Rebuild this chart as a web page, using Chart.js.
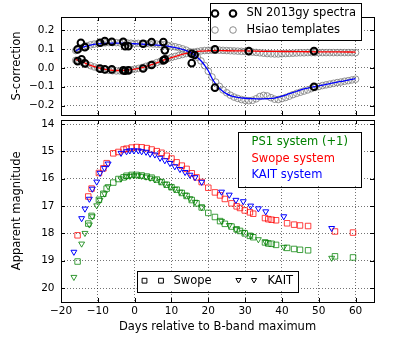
<!DOCTYPE html>
<html><head><meta charset="utf-8">
<script src="https://cdn.jsdelivr.net/npm/chart.js@4.4.1/dist/chart.umd.min.js"></script>
<style>
html,body{margin:0;padding:0;background:#fff;}
#wrap{position:relative;width:415px;height:346px;overflow:hidden;}
canvas{position:absolute;left:0;top:0;}
</style></head><body>
<div id="wrap"><canvas id="c1" width="415" height="346"></canvas><canvas id="c2" width="415" height="346"></canvas></div>
<script>
// ---------- Top panel data (S-correction) ----------
const hsiaoDays = [-16,-15,-14,-13,-12,-11,-10,-9,-8,-7,-6,-5,-4,-3,-2,-1,0,1,2,3,4,5,6,7,8,9,10,11,12,13,14,15,16,17,18,19,20,21,22,23,24,25,26,27,28,29,30,31,32,33,34,35,36,37,38,39,40,41,42,43,44,45,46,47,48,49,50,51,52,53,54,55,56,57,58,59,60];
const hsiaoBlueBranch = [0.092,0.102,0.110,0.117,0.122,0.126,0.129,0.131,0.133,0.134,0.134,0.134,0.133,0.133,0.132,0.131,0.130,0.130,0.129,0.128,0.128,0.127,0.126,0.124,0.122,0.119,0.116,0.112,0.107,0.101,0.094,0.085,0.072,0.057,0.037,0.012,-0.018,-0.048,-0.075,-0.098,-0.117,-0.132,-0.145,-0.155,-0.162,-0.168,-0.172,-0.174,-0.172,-0.164,-0.152,-0.146,-0.149,-0.158,-0.166,-0.168,-0.163,-0.157,-0.150,-0.142,-0.135,-0.129,-0.123,-0.117,-0.110,-0.104,-0.099,-0.094,-0.090,-0.086,-0.082,-0.078,-0.075,-0.071,-0.068,-0.064,-0.060];
const hsiaoRedBranch = [0.040,0.034,0.027,0.019,0.012,0.005,-0.001,-0.006,-0.010,-0.013,-0.015,-0.016,-0.016,-0.015,-0.013,-0.010,-0.007,-0.003,0.002,0.008,0.014,0.021,0.028,0.035,0.042,0.049,0.055,0.061,0.066,0.071,0.076,0.080,0.084,0.087,0.090,0.092,0.093,0.094,0.094,0.094,0.093,0.092,0.091,0.090,0.089,0.088,0.087,0.086,0.084,0.082,0.080,0.078,0.076,0.075,0.074,0.074,0.075,0.076,0.077,0.078,0.079,0.080,0.080,0.081,0.081,0.081,0.081,0.081,0.081,0.081,0.081,0.081,0.081,0.081,0.081,0.081,0.081];

const blueLineDays = [-16,-15,-14,-12,-10,-8,-6,-4,-2,0,2,4,6,8,10,12,14,16,17,18,19,20,21,22,23,24,25,26,27,28,30,32,34,36,38,40,42,44,46,48,50,52,54,56,58,60];
const blueLineVals = [0.090,0.101,0.110,0.121,0.127,0.130,0.131,0.131,0.130,0.128,0.126,0.124,0.121,0.117,0.112,0.104,0.092,0.072,0.057,0.038,0.014,-0.015,-0.055,-0.085,-0.108,-0.125,-0.138,-0.147,-0.153,-0.157,-0.161,-0.163,-0.164,-0.163,-0.160,-0.150,-0.137,-0.124,-0.112,-0.103,-0.095,-0.087,-0.080,-0.072,-0.065,-0.057];
const redLineDays = [-16,-14,-12,-10,-8,-6,-4,-2,0,2,4,6,8,10,12,14,16,18,20,22,25,30,35,40,45,50,55,60];
const redLineVals = [0.045,0.030,0.013,0.001,-0.008,-0.013,-0.014,-0.012,-0.007,0.001,0.013,0.027,0.042,0.055,0.067,0.077,0.084,0.089,0.091,0.092,0.091,0.090,0.088,0.087,0.086,0.085,0.085,0.084];

const specBlueDays = [-15.5,-14.6,-13.5,-9.4,-8.1,-6.2,-3.1,-2.6,-1.7,2.3,4.6,7.8,8.2,15.5,16.3,21.8,48.7];
const specBlueVals = [0.098,0.133,0.110,0.133,0.142,0.139,0.139,0.115,0.115,0.128,0.137,0.137,0.093,0.075,0.068,-0.105,-0.100];
const specRedDays = [-15.5,-14.4,-13.5,-9.4,-8.1,-6.2,-3.1,-2.6,-1.7,2.3,4.6,7.8,8.2,15.5,21.8,31.0,48.7];
const specRedVals = [0.036,0.045,0.024,-0.004,-0.008,-0.008,-0.013,-0.015,-0.013,-0.003,0.015,0.040,0.045,0.025,0.098,0.089,0.089];

// ---------- Bottom panel data (apparent magnitude) ----------
const swopeDays = [-15.5,-12.6,-11.7,-9.7,-8.5,-7.6,-5.8,-4.4,-3.0,-2.2,-0.8,0.5,1.9,3.3,4.6,6.0,7.3,8.7,10.0,11.4,12.8,14.1,15.5,16.8,18.2,20.0,21.8,23.2,24.5,26.3,27.7,28.6,29.9,31.3,32.2,35.4,36.3,37.2,38.4,41.4,43.3,44.9,47.1,54.4,59.3];
const swopeMag = [18.07,16.65,16.36,15.79,15.62,15.43,15.07,15.02,14.93,14.90,14.86,14.84,14.85,14.88,14.93,14.99,15.05,15.16,15.26,15.40,15.52,15.64,15.80,15.95,16.12,16.33,16.50,16.61,16.74,16.90,17.01,17.07,17.16,17.23,17.28,17.44,17.48,17.50,17.52,17.63,17.68,17.71,17.73,17.93,17.97];
const ps1SwopeMag = [19.03,17.64,17.36,16.77,16.55,16.36,16.14,16.01,15.95,15.89,15.86,15.86,15.88,15.92,15.96,16.03,16.12,16.22,16.31,16.40,16.52,16.63,16.78,16.90,17.05,17.25,17.40,17.55,17.65,17.75,17.85,17.91,18.00,18.09,18.14,18.33,18.37,18.38,18.42,18.53,18.57,18.60,18.62,18.84,18.88];
const kaitDays = [-16.5,-14.4,-13.5,-12.3,-11.5,-10.3,-9.4,-8.2,-7.2,-3.7,-2.2,-1.3,-0.2,1.0,1.9,3.1,4.2,5.5,6.9,8.2,9.6,10.9,12.3,13.7,15.0,16.4,18.2,23.6,25.7,27.5,29.5,31.5,33.6,35.6,40.5,53.5];
const kaitMag = [18.68,17.45,17.10,16.74,16.37,16.11,15.79,15.61,15.45,15.06,15.00,14.97,14.97,14.97,15.00,15.02,15.09,15.12,15.24,15.33,15.43,15.55,15.65,15.76,15.86,15.95,16.12,16.48,16.59,16.78,16.83,16.99,17.09,17.20,17.38,17.81];
const ps1KaitMag = [19.60,18.38,17.99,17.68,17.38,16.98,16.78,16.55,16.28,16.00,15.92,15.90,15.88,15.88,15.90,15.93,15.97,16.03,16.10,16.19,16.29,16.38,16.48,16.59,16.72,16.85,17.05,17.55,17.70,17.85,17.95,18.08,18.22,18.32,18.50,18.90];

// ---------- Axis settings ----------
const xMin = -20, xMax = 65, xStep = 10;
const sMin = -0.25, sMax = 0.27, sStep = 0.1;
const mMin = 13.85, mMax = 20.5, mStep = 1;

const legendTop = ['SN 2013gy spectra', 'Hsiao templates'];
const legendSystems = ['PS1 system (+1)', 'Swope system', 'KAIT system'];
const legendInstruments = ['Swope', 'KAIT'];

// ---------- helpers ----------
const pts = (xs, ys) => xs.map((x, i) => ({x: x, y: ys[i]}));
const minus = s => String(s).replace('-', '\u2212');
const FONT = 'DejaVu Sans';
Chart.defaults.font.family = FONT;
Chart.defaults.color = '#000';

const GREEN = '#008000', RED = '#ff0000', BLUE = '#0000ff';
const gridOpts = {color: 'rgba(0,0,0,0.55)', lineWidth: 1, drawTicks: false};
const borderOpts = {display: false, dash: [1, 2]};

function xAxis(show) {
  return {
    type: 'linear', min: xMin, max: xMax,
    ticks: {display: show, stepSize: xStep, includeBounds: false, autoSkip: false, maxRotation: 0,
            padding: 3, font: {size: 10.5}, color: '#000', callback: v => minus(v)},
    grid: gridOpts, border: borderOpts,
    title: show ? {display: true, text: 'Days relative to B-band maximum', color: '#000',
                   font: {size: 11.5}, padding: {top: 0, bottom: 12}} : {display: false},
    afterFit: s => { s.height = show ? 44.3 : 0; s.paddingLeft = 0; s.paddingRight = 0; }
  };
}
function yAxis(min, max, step, reverse, title, dec) {
  return {
    type: 'linear', min: min, max: max, reverse: reverse,
    ticks: {stepSize: step, includeBounds: false, padding: 6.5, font: {size: 10.5}, color: '#000',
            callback: v => minus(Number(v).toFixed(dec))},
    grid: gridOpts, border: borderOpts,
    title: {display: true, text: title, color: '#000', font: {size: 11.5}, padding: {top: 10, bottom: 0}},
    afterFit: s => { s.width = 61; s.paddingTop = 0; s.paddingBottom = 0; }
  };
}

const framePlugin = {
  id: 'frame',
  afterDatasetsDraw(chart) {
    const {ctx, chartArea: a, scales} = chart;
    const L = Math.round(a.left), R = Math.round(a.right), T = Math.round(a.top), B = Math.round(a.bottom);
    ctx.save();
    ctx.strokeStyle = '#000';
    ctx.lineWidth = 1;
    ctx.setLineDash([]);
    ctx.beginPath();
    const tl = 4;
    scales.x.ticks.forEach(t => {
      const p = Math.round(scales.x.getPixelForValue(t.value)) + 0.5;
      ctx.moveTo(p, B); ctx.lineTo(p, B - tl);
      ctx.moveTo(p, T); ctx.lineTo(p, T + tl);
    });
    scales.y.ticks.forEach(t => {
      const p = Math.round(scales.y.getPixelForValue(t.value)) + 0.5;
      ctx.moveTo(L, p); ctx.lineTo(L + tl, p);
      ctx.moveTo(R, p); ctx.lineTo(R - tl, p);
    });
    ctx.stroke();
    ctx.strokeRect(L + 0.5, T + 0.5, R - L, B - T);
    ctx.restore();
  }
};

function drawMarker(ctx, style, x, y, r, color, lw) {
  ctx.save();
  ctx.strokeStyle = color; ctx.lineWidth = lw; ctx.setLineDash([]);
  ctx.beginPath();
  if (style === 'circle') ctx.arc(x, y, r, 0, Math.PI * 2);
  else if (style === 'rect') ctx.rect(x - r, y - r, 2 * r, 2 * r);
  else if (style === 'tri') { ctx.moveTo(x - r * 0.87, y - r * 0.5); ctx.lineTo(x + r * 0.87, y - r * 0.5); ctx.lineTo(x, y + r); ctx.closePath(); }
  ctx.stroke();
  ctx.restore();
}
function legendBox(ctx, x, y, w, h) {
  ctx.save();
  ctx.fillStyle = '#fff'; ctx.strokeStyle = '#000'; ctx.lineWidth = 1;
  ctx.fillRect(x, y, w, h);
  ctx.strokeRect(Math.round(x) + 0.5, Math.round(y) + 0.5, Math.round(w), Math.round(h));
  ctx.restore();
}
function legendText(ctx, s, x, y, color) {
  ctx.save();
  ctx.font = '11.5px "' + FONT + '"';
  ctx.fillStyle = color; ctx.textAlign = 'left'; ctx.textBaseline = 'middle';
  ctx.fillText(s, x, y);
  ctx.restore();
}

const legendPluginTop = {
  id: 'legTop',
  afterDraw(chart) {
    const ctx = chart.ctx;
    legendBox(ctx, 210, 3, 151, 37);
    drawMarker(ctx, 'circle', 215, 13.5, 3.3, '#000', 2);
    drawMarker(ctx, 'circle', 233, 13.5, 3.3, '#000', 2);
    legendText(ctx, legendTop[0], 246.5, 13.5, '#000');
    drawMarker(ctx, 'circle', 215, 30, 3.3, '#8c8c8c', 1);
    drawMarker(ctx, 'circle', 233, 30, 3.3, '#8c8c8c', 1);
    legendText(ctx, legendTop[1], 246.5, 30, '#000');
  }
};
const legendPluginBottom = {
  id: 'legBottom',
  afterDraw(chart) {
    const ctx = chart.ctx;
    legendBox(ctx, 237.5, 131.5, 122.5, 54.5);
    legendText(ctx, legendSystems[0], 251.5, 142.5, GREEN);
    legendText(ctx, legendSystems[1], 251.5, 159, RED);
    legendText(ctx, legendSystems[2], 251.5, 175.5, BLUE);
    legendBox(ctx, 136.5, 270.5, 161, 20.5);
    drawMarker(ctx, 'rect', 144.5, 280.7, 2.4, '#000', 1);
    drawMarker(ctx, 'rect', 161, 280.7, 2.4, '#000', 1);
    legendText(ctx, legendInstruments[0], 173.5, 280.7, '#000');
    drawMarker(ctx, 'tri', 238.5, 280, 3, '#000', 1);
    drawMarker(ctx, 'tri', 254, 280, 3, '#000', 1);
    legendText(ctx, legendInstruments[1], 267.5, 280.7, '#000');
  }
};

const common = {
  responsive: false, animation: false, devicePixelRatio: 1, events: [],
  plugins: {legend: {display: false}, tooltip: {enabled: false}}
};

// ---------- Top chart ----------
new Chart(document.getElementById('c1'), {
  type: 'scatter',
  data: {datasets: [
    {data: pts(specBlueDays, specBlueVals), pointStyle: 'circle', pointRadius: 3.3, borderWidth: 2, borderColor: '#000', backgroundColor: 'rgba(0,0,0,0)', order: 1},
    {data: pts(specRedDays, specRedVals), pointStyle: 'circle', pointRadius: 3.3, borderWidth: 2, borderColor: '#000', backgroundColor: 'rgba(0,0,0,0)', order: 1},
    {data: pts(blueLineDays, blueLineVals), showLine: true, pointRadius: 0, borderColor: BLUE, borderWidth: 1.3, cubicInterpolationMode: 'monotone', order: 2},
    {data: pts(redLineDays, redLineVals), showLine: true, pointRadius: 0, borderColor: RED, borderWidth: 1.3, cubicInterpolationMode: 'monotone', order: 2},
    {data: pts(hsiaoDays, hsiaoBlueBranch), pointStyle: 'circle', pointRadius: 3.3, borderWidth: 1, borderColor: 'rgba(128,128,128,0.85)', backgroundColor: 'rgba(0,0,0,0)', order: 3},
    {data: pts(hsiaoDays, hsiaoRedBranch), pointStyle: 'circle', pointRadius: 3.3, borderWidth: 1, borderColor: 'rgba(128,128,128,0.85)', backgroundColor: 'rgba(0,0,0,0)', order: 3}
  ]},
  options: Object.assign({}, common, {
    layout: {padding: {top: 17, bottom: 231, left: 0, right: 41}},
    scales: {x: xAxis(false), y: yAxis(sMin, sMax, sStep, false, 'S-correction', 1)}
  }),
  plugins: [framePlugin, legendPluginTop]
});

// ---------- Bottom chart ----------
new Chart(document.getElementById('c2'), {
  type: 'scatter',
  data: {datasets: [
    {data: pts(kaitDays, kaitMag), pointStyle: 'triangle', rotation: 180, pointRadius: 3.4, borderWidth: 1, borderColor: BLUE, backgroundColor: 'rgba(0,0,0,0)', order: 1},
    {data: pts(swopeDays, swopeMag), pointStyle: 'rect', pointRadius: 3.9, borderWidth: 1, borderColor: 'rgba(255,0,0,0.75)', backgroundColor: 'rgba(0,0,0,0)', order: 2},
    {data: pts(kaitDays, ps1KaitMag), pointStyle: 'triangle', rotation: 180, pointRadius: 3.4, borderWidth: 1, borderColor: 'rgba(0,128,0,0.8)', backgroundColor: 'rgba(0,0,0,0)', order: 3},
    {data: pts(swopeDays, ps1SwopeMag), pointStyle: 'rect', pointRadius: 3.9, borderWidth: 1, borderColor: 'rgba(0,128,0,0.75)', backgroundColor: 'rgba(0,0,0,0)', order: 4}
  ]},
  options: Object.assign({}, common, {
    layout: {padding: {top: 120, bottom: 0, left: 0, right: 41}},
    scales: {x: xAxis(true), y: yAxis(mMin, mMax, mStep, true, 'Apparent magnitude', 0)}
  }),
  plugins: [framePlugin, legendPluginBottom]
});
</script>
</body></html>
